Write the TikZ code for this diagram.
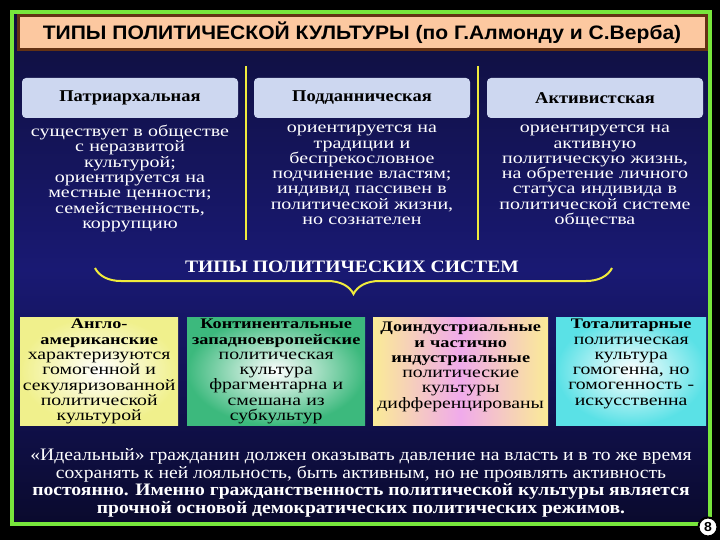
\documentclass[tikz,border=0pt]{standalone}
\usepackage{fontspec}
\setmainfont[FakeStretch=1.25]{Liberation Serif}
\newfontfamily\hdrf[FakeStretch=1.12]{Liberation Serif}
\newfontfamily\notef[FakeStretch=1.12]{Liberation Serif}
\newfontfamily\sansf[FakeStretch=1.08]{Liberation Sans}
\newcommand\bl[1]{{\fontsize{14.6}{15.3}\selectfont\bfseries #1}}
\usetikzlibrary{decorations.pathreplacing}
\definecolor{frameg}{RGB}{120,230,60}
\definecolor{peach}{RGB}{252,200,160}
\definecolor{brownb}{RGB}{100,50,20}
\definecolor{hdrbox}{RGB}{205,215,240}
\definecolor{yell}{RGB}{240,235,60}
\tikzset{
 hdr/.style={rounded corners=4pt,fill=hdrbox,minimum height=40pt,text width=200pt,align=center,font=\hdrf\fontsize{16.5}{16}\selectfont\bfseries},
 body/.style={text=white,align=center,font=\fontsize{16}{15.3}\selectfont,text width=230pt,anchor=north,inner sep=1pt},
 sysbox/.style={align=center,font=\fontsize{15.8}{15.3}\selectfont,anchor=north west,inner sep=1pt}
}
\begin{document}
\begin{tikzpicture}[x=1pt,y=-1pt]
\useasboundingbox (0,0) rectangle (720,540);
\fill[black] (0,0) rectangle (720,540);
\shade[top color={rgb,255:red,15;green,15;blue,60},bottom color={rgb,255:red,25;green,25;blue,115}] (12,12) rectangle (710,270);
\shade[top color={rgb,255:red,25;green,25;blue,115},bottom color={rgb,255:red,10;green,10;blue,45}] (12,270) rectangle (710,524);
\draw[frameg,line width=4pt] (12,12) rectangle (710,524);
\node[fill=peach,draw=brownb,line width=3pt,minimum width=688pt,minimum height=34pt,font=\sansf\fontsize{19.5}{19.5}\selectfont\bfseries] (title) at (362,33) {ТИПЫ ПОЛИТИЧЕСКОЙ КУЛЬТУРЫ (по Г.Алмонду и С.Верба)};
\node[hdr,minimum width=216pt] (h1) at (130,98) {Патриархальная};
\node[hdr,minimum width=216pt] (h2) at (362,98) {Подданническая};
\node[hdr,minimum width=216pt] (h3) at (595,98) {Активистская};
\coordinate (l1t) at (246,66); \coordinate (l1b) at (246,240);
\coordinate (l2t) at (478,66); \coordinate (l2b) at (478,240);
\draw[yell,line width=1.5pt] (l1t)--(l1b);
\draw[yell,line width=1.5pt] (l2t)--(l2b);
\node[body] (b1) at (130,124) {существует в обществе\\с неразвитой\\культурой;\\ориентируется на\\местные ценности;\\семейственность,\\коррупцию};
\node[body] (b2) at (362,124) {ориентируется на\\традиции и\\беспрекословное\\подчинение властям;\\индивид пассивен в\\политической жизни,\\но сознателен};
\node[body] (b3) at (595,124) {ориентируется на\\активную\\политическую жизнь,\\на обретение личного\\статуса индивида в\\политической системе\\общества};
\node[text=white,font=\hdrf\fontsize{17.5}{17.5}\selectfont\bfseries] (sys) at (352,267) {ТИПЫ ПОЛИТИЧЕСКИХ СИСТЕМ};
\coordinate (brl) at (95,268); \coordinate (brr) at (612,268);
\draw[yell,line width=2pt,decorate,decoration={brace,amplitude=26pt,mirror}] (brl)--(brr);
\shade[inner color=white,outer color={rgb,255:red,240;green,240;blue,140}] (20,317) rectangle (178,425);
\shade[inner color=white,outer color={rgb,255:red,60;green,185;blue,125}] (187,317) rectangle (365,425);
\shade[left color={rgb,255:red,250;green,235;blue,150},right color={rgb,255:red,250;green,235;blue,150},middle color={rgb,255:red,240;green,170;blue,235}] (373,317) rectangle (548,425);
\shade[inner color=white,outer color={rgb,255:red,90;green,225;blue,230}] (556,317) rectangle (706,425);
\node[sysbox,text width=156pt] (s1) at (20,318) {\bl{Англо-}\\\bl{американские}\\характеризуются\\гомогенной и\\секуляризованной\\политической\\культурой};
\node[sysbox,text width=176pt] (s2) at (187,318) {\bl{Континентальные}\\\bl{западноевропейские}\\политическая\\культура\\фрагментарна и\\смешана из\\субкультур};
\node[sysbox,text width=173pt] (s3) at (373,321) {\bl{Доиндустриальные}\\\bl{и частично}\\\bl{индустриальные}\\политические\\культуры\\дифференцированы};
\node[sysbox,text width=148pt] (s4) at (556,318) {\bl{Тоталитарные}\\политическая\\культура\\гомогенна, но\\гомогенность -\\искусственна};
\node[text=white,align=center,font=\notef\fontsize{17.5}{17.7}\selectfont,anchor=north] (note) at (361,445) {«Идеальный» гражданин должен оказывать давление на власть и в то же время\\сохранять к ней лояльность, быть активным, но не проявлять активность\\\textbf{постоянно. Именно гражданственность политической культуры является}\\\textbf{прочной основой демократических политических режимов.}};
\node[circle,fill=white,draw=black,line width=2pt,minimum size=19pt,inner sep=0pt,font=\sansf\fontsize{13}{13}\selectfont\bfseries] (pg) at (708,527) {8};
\end{tikzpicture}
\end{document}
